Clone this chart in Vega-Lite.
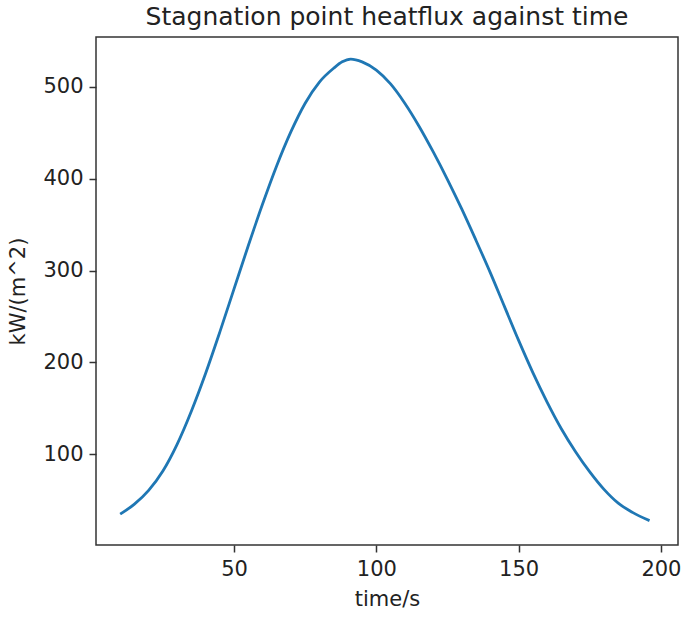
{
  "$schema": "https://vega.github.io/schema/vega-lite/v6.json",
  "width": 582,
  "height": 508,
  "autosize": {"type": "none"},
  "padding": {"left": 96, "top": 37, "right": 7, "bottom": 75},
  "background": "white",
  "title": {
    "text": "Stagnation point heatflux against time",
    "font": "DejaVu Sans",
    "fontSize": 25,
    "fontWeight": "normal",
    "color": "#222222",
    "anchor": "middle",
    "offset": 7
  },
  "data": {
    "values": [
      {"t": 10, "q": 35}, {"t": 15, "q": 46}, {"t": 20, "q": 61},
      {"t": 25, "q": 82}, {"t": 30, "q": 111}, {"t": 35, "q": 147},
      {"t": 40, "q": 188}, {"t": 45, "q": 233}, {"t": 50, "q": 280},
      {"t": 55, "q": 327}, {"t": 60, "q": 372}, {"t": 65, "q": 414},
      {"t": 70, "q": 451}, {"t": 75, "q": 482}, {"t": 80, "q": 505},
      {"t": 85, "q": 520}, {"t": 88, "q": 527}, {"t": 91, "q": 530},
      {"t": 95, "q": 527}, {"t": 100, "q": 518}, {"t": 105, "q": 503},
      {"t": 110, "q": 482}, {"t": 115, "q": 457}, {"t": 120, "q": 429},
      {"t": 125, "q": 399}, {"t": 130, "q": 367}, {"t": 135, "q": 333},
      {"t": 140, "q": 298}, {"t": 145, "q": 261}, {"t": 150, "q": 224},
      {"t": 155, "q": 189}, {"t": 160, "q": 157}, {"t": 165, "q": 128},
      {"t": 170, "q": 103}, {"t": 175, "q": 81}, {"t": 180, "q": 62},
      {"t": 185, "q": 47}, {"t": 190, "q": 37}, {"t": 196, "q": 28}
    ]
  },
  "mark": {"type": "line", "color": "#1f77b4", "strokeWidth": 2.8, "interpolate": "monotone"},
  "encoding": {
    "x": {
      "field": "t",
      "type": "quantitative",
      "title": "time/s",
      "scale": {"domain": [1.5, 206], "nice": false, "zero": false},
      "axis": {"values": [50, 100, 150, 200], "titlePadding": 9}
    },
    "y": {
      "field": "q",
      "type": "quantitative",
      "title": "kW/(m^2)",
      "scale": {"domain": [1.5, 554], "nice": false, "zero": false},
      "axis": {"values": [100, 200, 300, 400, 500], "titlePadding": 14}
    }
  },
  "config": {
    "view": {"stroke": "#333333", "strokeWidth": 1.5},
    "axis": {
      "grid": false,
      "domain": false,
      "tickColor": "#333333",
      "tickWidth": 1.5,
      "tickSize": 7,
      "labelPadding": 6,
      "labelFont": "DejaVu Sans",
      "labelFontSize": 21,
      "labelColor": "#222222",
      "titleFont": "DejaVu Sans",
      "titleFontSize": 21,
      "titleFontWeight": "normal",
      "titleColor": "#222222"
    }
  }
}
